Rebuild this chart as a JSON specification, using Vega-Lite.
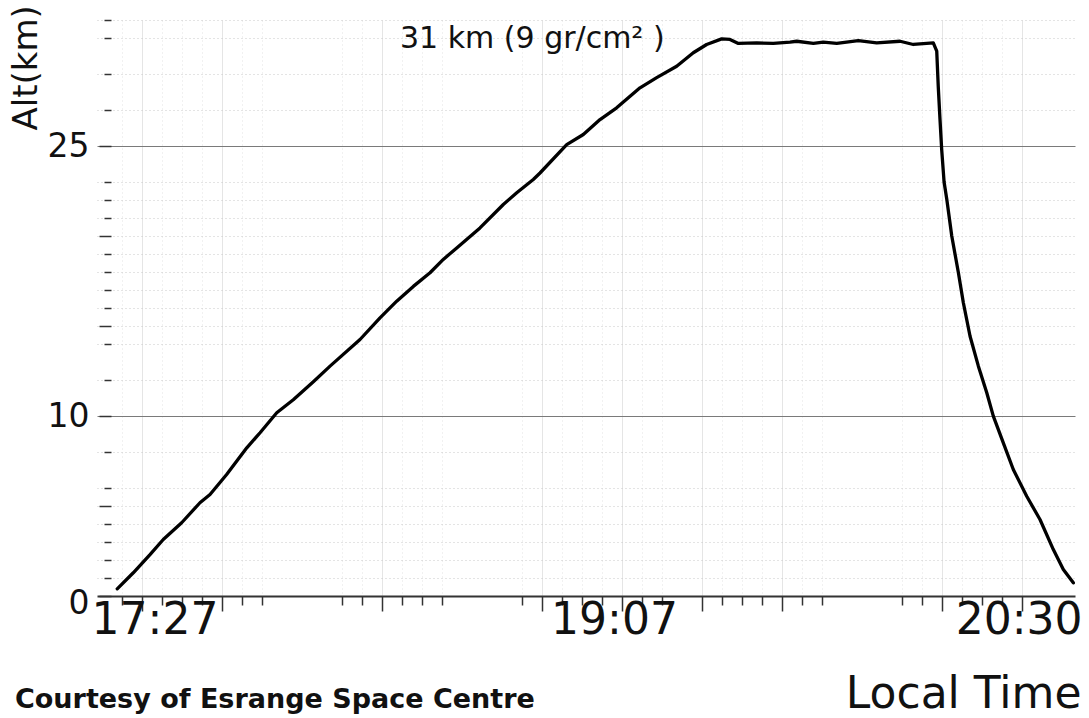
{
  "$schema": "https://vega.github.io/schema/vega-lite/v6.json",
  "width": 978,
  "height": 576,
  "autosize": {"type": "none"},
  "padding": {"left": 97, "top": 20, "right": 14, "bottom": 122},
  "background": "white",
  "config": {
    "font": "DejaVu Sans",
    "view": {"stroke": null}
  },
  "title": {
    "text": "Courtesy of Esrange Space Centre",
    "orient": "bottom",
    "anchor": "start",
    "frame": "group",
    "font": "DejaVu Sans",
    "fontSize": 27,
    "fontWeight": "bold",
    "color": "#111",
    "baseline": "alphabetic",
    "dx": -82,
    "offset": -8
  },
  "datasets": {
    "flight": [
      {"t": "17:21:44", "alt": 0.4},
      {"t": "17:25:05", "alt": 1.29},
      {"t": "17:28:34", "alt": 2.3},
      {"t": "17:31:20", "alt": 3.14},
      {"t": "17:35:10", "alt": 4.07},
      {"t": "17:38:59", "alt": 5.18},
      {"t": "17:41:05", "alt": 5.64},
      {"t": "17:44:33", "alt": 6.75},
      {"t": "17:48:45", "alt": 8.23},
      {"t": "17:51:31", "alt": 9.07},
      {"t": "17:55:00", "alt": 10.18},
      {"t": "17:58:27", "alt": 10.9},
      {"t": "18:02:38", "alt": 11.9},
      {"t": "18:06:07", "alt": 12.77},
      {"t": "18:12:22", "alt": 14.25},
      {"t": "18:16:32", "alt": 15.45},
      {"t": "18:20:01", "alt": 16.38},
      {"t": "18:23:29", "alt": 17.2},
      {"t": "18:26:58", "alt": 17.96},
      {"t": "18:29:44", "alt": 18.7},
      {"t": "18:32:32", "alt": 19.34},
      {"t": "18:37:23", "alt": 20.45},
      {"t": "18:42:15", "alt": 21.75},
      {"t": "18:45:03", "alt": 22.4},
      {"t": "18:48:30", "alt": 23.14},
      {"t": "18:49:54", "alt": 23.5},
      {"t": "18:55:28", "alt": 25.08},
      {"t": "18:58:56", "alt": 25.64},
      {"t": "19:02:25", "alt": 26.47},
      {"t": "19:05:53", "alt": 27.12},
      {"t": "19:10:45", "alt": 28.23},
      {"t": "19:14:14", "alt": 28.8},
      {"t": "19:18:24", "alt": 29.43},
      {"t": "19:21:52", "alt": 30.18},
      {"t": "19:24:39", "alt": 30.64},
      {"t": "19:27:47", "alt": 30.95},
      {"t": "19:29:31", "alt": 30.92},
      {"t": "19:31:16", "alt": 30.7},
      {"t": "19:35:06", "alt": 30.73},
      {"t": "19:38:33", "alt": 30.7},
      {"t": "19:42:02", "alt": 30.77},
      {"t": "19:43:26", "alt": 30.82},
      {"t": "19:46:54", "alt": 30.7},
      {"t": "19:48:59", "alt": 30.77},
      {"t": "19:51:47", "alt": 30.7},
      {"t": "19:56:17", "alt": 30.86},
      {"t": "20:00:07", "alt": 30.73},
      {"t": "20:04:59", "alt": 30.82},
      {"t": "20:07:45", "alt": 30.64},
      {"t": "20:11:55", "alt": 30.73},
      {"t": "20:12:38", "alt": 30.27},
      {"t": "20:12:57", "alt": 28.3},
      {"t": "20:13:19", "alt": 26.47},
      {"t": "20:13:40", "alt": 24.8},
      {"t": "20:14:10", "alt": 23.0},
      {"t": "20:14:45", "alt": 22.0},
      {"t": "20:15:46", "alt": 20.0},
      {"t": "20:17:09", "alt": 17.96},
      {"t": "20:18:11", "alt": 16.29},
      {"t": "20:19:35", "alt": 14.43},
      {"t": "20:21:19", "alt": 12.77},
      {"t": "20:23:04", "alt": 11.29},
      {"t": "20:24:26", "alt": 9.99},
      {"t": "20:26:31", "alt": 8.51},
      {"t": "20:28:36", "alt": 7.03},
      {"t": "20:31:24", "alt": 5.54},
      {"t": "20:34:10", "alt": 4.25},
      {"t": "20:36:57", "alt": 2.58},
      {"t": "20:39:02", "alt": 1.47},
      {"t": "20:41:07", "alt": 0.73}
    ],
    "notes": [
      {"t": "18:20:42", "alt": 30.46, "label": "31 km (9 gr/cm² )"}
    ]
  },
  "encoding": {
    "x": {
      "field": "t",
      "type": "temporal",
      "scale": {
        "type": "utc",
        "domain": [
          {"utc": true, "year": 1900, "month": 1, "date": 1, "hours": 17, "minutes": 17, "seconds": 31},
          {"utc": true, "year": 1900, "month": 1, "date": 1, "hours": 20, "minutes": 41, "seconds": 28}
        ],
        "nice": false
      },
      "axis": {
        "values": [
          {"utc": true, "year": 1900, "month": 1, "date": 1, "hours": 17, "minutes": 22, "seconds": 50},
          {"utc": true, "year": 1900, "month": 1, "date": 1, "hours": 17, "minutes": 27, "seconds": 0},
          {"utc": true, "year": 1900, "month": 1, "date": 1, "hours": 17, "minutes": 31, "seconds": 10},
          {"utc": true, "year": 1900, "month": 1, "date": 1, "hours": 17, "minutes": 35, "seconds": 20},
          {"utc": true, "year": 1900, "month": 1, "date": 1, "hours": 17, "minutes": 39, "seconds": 30},
          {"utc": true, "year": 1900, "month": 1, "date": 1, "hours": 17, "minutes": 43, "seconds": 40},
          {"utc": true, "year": 1900, "month": 1, "date": 1, "hours": 17, "minutes": 47, "seconds": 50},
          {"utc": true, "year": 1900, "month": 1, "date": 1, "hours": 17, "minutes": 52, "seconds": 0},
          {"utc": true, "year": 1900, "month": 1, "date": 1, "hours": 18, "minutes": 8, "seconds": 40},
          {"utc": true, "year": 1900, "month": 1, "date": 1, "hours": 18, "minutes": 12, "seconds": 50},
          {"utc": true, "year": 1900, "month": 1, "date": 1, "hours": 18, "minutes": 17, "seconds": 0},
          {"utc": true, "year": 1900, "month": 1, "date": 1, "hours": 18, "minutes": 21, "seconds": 10},
          {"utc": true, "year": 1900, "month": 1, "date": 1, "hours": 18, "minutes": 25, "seconds": 20},
          {"utc": true, "year": 1900, "month": 1, "date": 1, "hours": 18, "minutes": 29, "seconds": 30},
          {"utc": true, "year": 1900, "month": 1, "date": 1, "hours": 18, "minutes": 46, "seconds": 10},
          {"utc": true, "year": 1900, "month": 1, "date": 1, "hours": 18, "minutes": 50, "seconds": 20},
          {"utc": true, "year": 1900, "month": 1, "date": 1, "hours": 18, "minutes": 54, "seconds": 30},
          {"utc": true, "year": 1900, "month": 1, "date": 1, "hours": 18, "minutes": 58, "seconds": 40},
          {"utc": true, "year": 1900, "month": 1, "date": 1, "hours": 19, "minutes": 2, "seconds": 50},
          {"utc": true, "year": 1900, "month": 1, "date": 1, "hours": 19, "minutes": 7, "seconds": 0},
          {"utc": true, "year": 1900, "month": 1, "date": 1, "hours": 19, "minutes": 11, "seconds": 10},
          {"utc": true, "year": 1900, "month": 1, "date": 1, "hours": 19, "minutes": 15, "seconds": 20},
          {"utc": true, "year": 1900, "month": 1, "date": 1, "hours": 19, "minutes": 23, "seconds": 40},
          {"utc": true, "year": 1900, "month": 1, "date": 1, "hours": 19, "minutes": 27, "seconds": 50},
          {"utc": true, "year": 1900, "month": 1, "date": 1, "hours": 19, "minutes": 32, "seconds": 0},
          {"utc": true, "year": 1900, "month": 1, "date": 1, "hours": 19, "minutes": 36, "seconds": 10},
          {"utc": true, "year": 1900, "month": 1, "date": 1, "hours": 19, "minutes": 40, "seconds": 20},
          {"utc": true, "year": 1900, "month": 1, "date": 1, "hours": 19, "minutes": 44, "seconds": 30},
          {"utc": true, "year": 1900, "month": 1, "date": 1, "hours": 19, "minutes": 48, "seconds": 40},
          {"utc": true, "year": 1900, "month": 1, "date": 1, "hours": 20, "minutes": 5, "seconds": 20},
          {"utc": true, "year": 1900, "month": 1, "date": 1, "hours": 20, "minutes": 9, "seconds": 30},
          {"utc": true, "year": 1900, "month": 1, "date": 1, "hours": 20, "minutes": 13, "seconds": 40},
          {"utc": true, "year": 1900, "month": 1, "date": 1, "hours": 20, "minutes": 17, "seconds": 50},
          {"utc": true, "year": 1900, "month": 1, "date": 1, "hours": 20, "minutes": 22, "seconds": 0},
          {"utc": true, "year": 1900, "month": 1, "date": 1, "hours": 20, "minutes": 26, "seconds": 10},
          {"utc": true, "year": 1900, "month": 1, "date": 1, "hours": 20, "minutes": 30, "seconds": 20}
        ],
        "labelExpr": "indexof(['17:27', '19:07', '20:30'], utcFormat(datum.value, '%H:%M')) >= 0 ? utcFormat(datum.value, '%H:%M') : ''",
        "labelFontSize": 44,
        "labelColor": "#111",
        "labelBaseline": "alphabetic",
        "labelPadding": 22,
        "labelOffset": {
          "condition": [
            {"test": "utcFormat(datum.value, '%H:%M') == '17:27'", "value": 12},
            {"test": "utcFormat(datum.value, '%H:%M') == '19:07'", "value": -8}
          ],
          "value": -3
        },
        "labelFlush": false,
        "labelOverlap": false,
        "tickSize": {
          "condition": {"test": "round((datum.value - utc(1900, 0, 1, 17, 27, 0)) / 250000) % 4 == 0", "value": 15},
          "value": 9
        },
        "tickColor": "#333",
        "tickWidth": 1.5,
        "domainColor": "#333",
        "domainWidth": 2,
        "grid": true,
        "gridColor": {
          "condition": {"test": "round((datum.value - utc(1900, 0, 1, 17, 27, 0)) / 250000) % 4 == 0", "value": "#d4d4d4"},
          "value": "#cfcfcf"
        },
        "gridDash": {
          "condition": {"test": "round((datum.value - utc(1900, 0, 1, 17, 27, 0)) / 250000) % 4 == 0", "value": []},
          "value": [1, 3]
        },
        "gridOpacity": 0.6,
        "title": "Local Time",
        "titleFontSize": 44,
        "titleFontWeight": "normal",
        "titleColor": "#111",
        "titleAlign": "right",
        "titleBaseline": "alphabetic",
        "titleX": 984,
        "titleY": 111
      }
    },
    "y": {
      "field": "alt",
      "type": "quantitative",
      "scale": {"domain": [0, 32], "nice": false},
      "axis": {
        "values": [0, 1, 2, 3, 4, 5, 6, 8, 10, 12, 14, 15, 16, 17, 18, 19, 20, 21, 22, 23, 25, 27, 29, 31, 32],
        "labelExpr": "indexof([0, 10, 25], datum.value) >= 0 ? datum.label : ''",
        "labelFontSize": 33,
        "labelColor": "#111",
        "labelPadding": 10,
        "labelOffset": {
          "condition": {"test": "datum.value == 0", "value": 7},
          "value": 0
        },
        "offset": -14,
        "domain": false,
        "tickSize": {
          "condition": {"test": "datum.value % 5 == 0", "value": 12},
          "value": 7
        },
        "tickColor": "#333",
        "tickWidth": 1.5,
        "grid": true,
        "gridColor": {
          "condition": {"test": "datum.value == 10 || datum.value == 25", "value": "#7a7a7a"},
          "value": "#c8c8c8"
        },
        "gridDash": {
          "condition": {"test": "datum.value == 10 || datum.value == 25", "value": []},
          "value": [1, 3]
        },
        "gridOpacity": {
          "condition": {"test": "datum.value == 0", "value": 0},
          "value": 1
        },
        "title": "Alt(km)",
        "titleFontSize": 34,
        "titleFontWeight": "normal",
        "titleColor": "#111",
        "titleAngle": -90,
        "titleAlign": "left",
        "titleBaseline": "alphabetic",
        "titleX": -75,
        "titleY": 110
      }
    }
  },
  "layer": [
    {
      "data": {"name": "flight", "format": {"parse": {"t": "utc:'%H:%M:%S'"}}},
      "mark": {"type": "line", "color": "#000", "strokeWidth": 3.3, "strokeJoin": "round", "strokeCap": "round"}
    },
    {
      "data": {"name": "notes", "format": {"parse": {"t": "utc:'%H:%M:%S'"}}},
      "mark": {"type": "text", "align": "left", "baseline": "alphabetic", "fontSize": 30, "color": "#111"},
      "encoding": {"text": {"field": "label"}}
    }
  ]
}
